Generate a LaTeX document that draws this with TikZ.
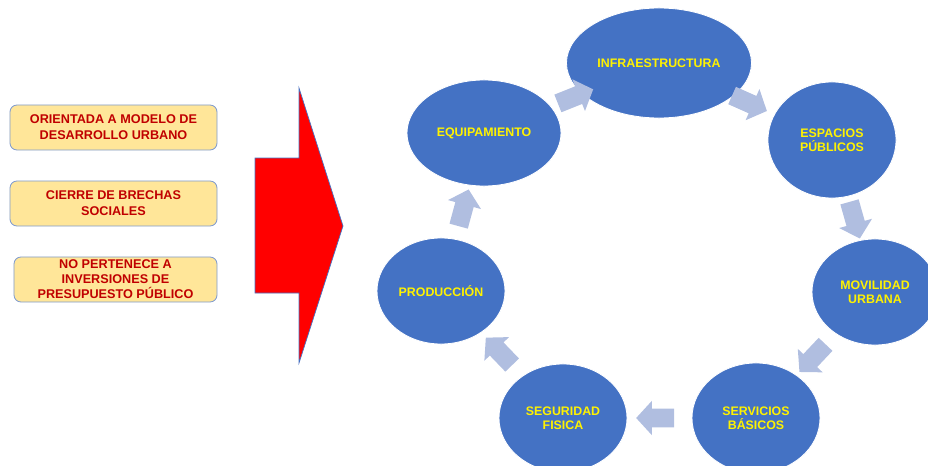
\documentclass[tikz,border=0pt]{standalone}
\usepackage{fontspec}
\setmainfont{Liberation Sans}
\usepackage{xcolor}
\usetikzlibrary{shapes,calc}

\definecolor{cycleblue}{HTML}{4472C4}
\definecolor{flowblue}{HTML}{B0BEE0}
\definecolor{boxfill}{HTML}{FFE699}
\definecolor{boxline}{HTML}{7F9BCF}
\definecolor{boxtext}{HTML}{C00000}

\begin{document}
\begin{tikzpicture}[
    x=0.025cm, y=-0.025cm,
    stage/.style={ellipse, draw=white, line width=0.6pt, fill=cycleblue, inner sep=0pt, text centered, align=center, font=\fontsize{8.8}{10}\selectfont\bfseries, text=yellow},
    note/.style={rectangle, rounded corners=5pt, draw=boxline, line width=0.6pt, fill=boxfill, minimum height=1.125cm, inner sep=1pt, text centered, align=center, font=\fontsize{9}{11.2}\selectfont\bfseries, text=boxtext},
    flow/.style={single arrow, fill=flowblue, draw=none, inner sep=0.23cm, minimum height=0.95cm, single arrow head extend=0.19cm, single arrow tip angle=95}
]
    \clip (0,0) rectangle (928,466);

    % Criteria boxes
    \node[note, minimum width=5.175cm] (orient) at (113.5,127.5) {ORIENTADA A MODELO DE\\DESARROLLO URBANO};
    \node[note, minimum width=5.175cm] (brechas) at (113.5,203.5) {CIERRE DE BRECHAS\\SOCIALES};
    \node[note, minimum width=5.075cm, font=\fontsize{9}{10.6}\selectfont\bfseries] (presup) at (115.5,279.5) {NO PERTENECE A\\INVERSIONES DE\\PRESUPUESTO P\'UBLICO};

    % Big red arrow
    \draw[fill=red, draw=cycleblue, line width=0.5pt] (255,158) -- (299,158) -- (299,88) -- (343,226)
        -- (299,363) -- (299,293) -- (255,293) -- cycle;

    % Cycle
    \node[stage, minimum width=4.625cm, minimum height=2.75cm] (infra) at (659,63) {INFRAESTRUCTURA};
    \node[stage, minimum width=3.2cm, minimum height=2.9cm] (espacios) at (832,140) {ESPACIOS\\P\'UBLICOS};
    \node[stage, minimum width=3.15cm, minimum height=2.65cm] (movilidad) at (875,292) {MOVILIDAD\\URBANA};
    \node[stage, minimum width=3.2cm, minimum height=2.75cm] (servicios) at (756,418) {SERVICIOS\\B\'ASICOS};
    \node[stage, minimum width=3.2cm, minimum height=2.7cm] (seguridad) at (563,418) {SEGURIDAD\\FISICA};
    \node[stage, minimum width=3.2cm, minimum height=2.65cm] (produccion) at (441,291) {PRODUCCI\'ON};
    \node[stage, minimum width=3.85cm, minimum height=2.65cm] (equip) at (484,133) {EQUIPAMIENTO};

    % Arrows between stages
    \foreach \a/\b in {equip/infra, infra/espacios, espacios/movilidad, movilidad/servicios,
                       servicios/seguridad, seguridad/produccion, produccion/equip}
        \path let \p1=($(\b)-(\a)$), \n1={atan2(\y1,\x1)} in
            node[flow, rotate=\n1] at ($(\a)!0.5!(\b)$) {};
\end{tikzpicture}
\end{document}
